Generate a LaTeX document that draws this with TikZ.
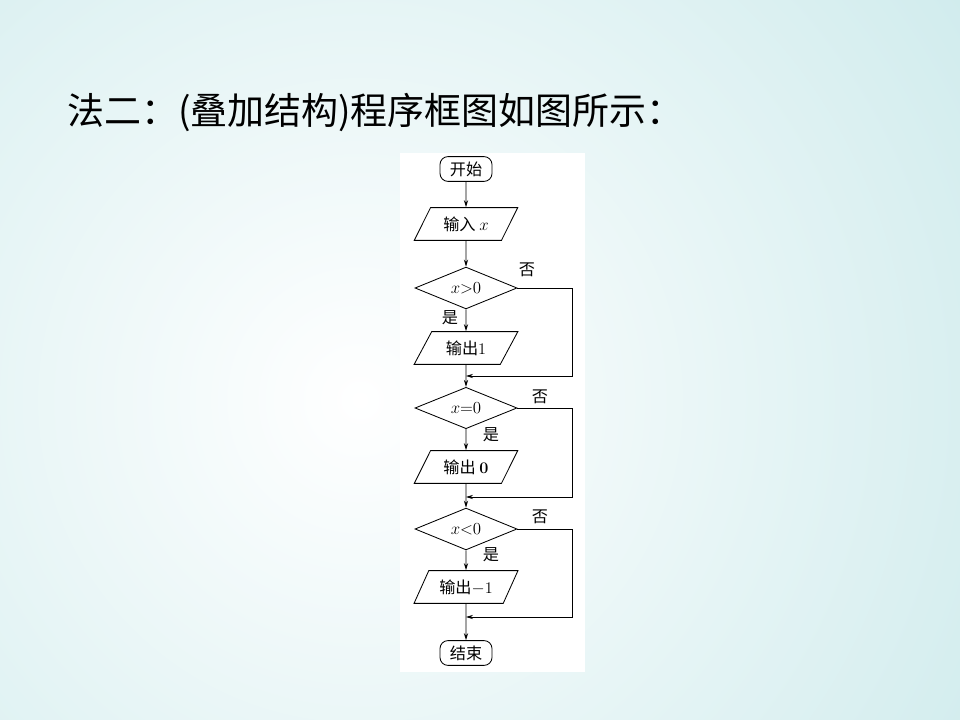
\documentclass[tikz,border=0pt]{standalone}
\usepackage{fontspec}
\newfontfamily\cjk{Noto Sans CJK SC}
\usetikzlibrary{shapes.geometric,arrows.meta}
\definecolor{bgcyan}{RGB}{185,226,228}

\begin{document}
\begin{tikzpicture}[x=0.025cm,y=-0.025cm,font=\cjk\fontsize{11.5}{13}\selectfont,
  term/.style={draw,rounded corners=0.2cm,minimum width=1.3cm,minimum height=0.62cm,inner sep=1pt},
  io/.style={draw,trapezium,trapezium left angle=58,trapezium right angle=122,trapezium stretches=true,minimum width=2.6cm,minimum height=0.82cm,inner sep=1pt},
  test/.style={draw,diamond,minimum width=2.55cm,minimum height=1.02cm,inner sep=0pt},
  flow/.style={-{Stealth[length=5pt,width=3pt]},line width=0.6pt},
  every node/.append style={line width=0.6pt}
]
  % background
  \useasboundingbox (0,0) rectangle (960,720);
  \begin{scope}
    \clip (0,0) rectangle (960,720);
    \shade[inner color=white,outer color=bgcyan] (360,400) circle (1100);
  \end{scope}
  \fill[white] (400,153) rectangle (585,672);

  \node[anchor=west,font=\cjk\fontsize{26.3}{30}\selectfont] (title) at (62,113) {法二：(叠加结构)程序框图如图所示：};

  \node[term] (start) at (466,169) {开始};
  \node[io] (inp) at (466,224) {输入 $x$};
  \node[test] (d1) at (466,288) {$x{>}0$};
  \node[io] (o1) at (466,348) {输出{\rmfamily 1}};
  \node[test] (d2) at (466,408) {$x{=}0$};
  \node[io] (o2) at (466,467) {输出 {\rmfamily\bfseries 0}};
  \node[test] (d3) at (466,529) {$x{<}0$};
  \node[io] (o3) at (466,587) {输出{\rmfamily$-$1}};
  \node[term] (stop) at (466,653) {结束};

  \coordinate (m1) at (466,376);
  \coordinate (r1) at (572,376);
  \coordinate (m2) at (466,497);
  \coordinate (r2) at (572,497);
  \coordinate (m3) at (466,617);
  \coordinate (r3) at (572,617);

  \draw[flow] (start) -- (inp);
  \draw[flow] (inp) -- (d1);
  \draw[flow] (d1) -- (o1);
  \draw[flow] (o1) -- (d2);
  \draw[flow] (d2) -- (o2);
  \draw[flow] (o2) -- (d3);
  \draw[flow] (d3) -- (o3);
  \draw[flow] (o3) -- (stop);

  \draw[flow] (d1.east) -| (r1) -- (m1);
  \draw[flow] (d2.east) -| (r2) -- (m2);
  \draw[flow] (d3.east) -| (r3) -- (m3);

  \node (no1) at (527,270) {否};
  \node (yes1) at (450,318) {是};
  \node (no2) at (540,397) {否};
  \node (yes2) at (491,435) {是};
  \node (no3) at (540,517) {否};
  \node (yes3) at (491,555) {是};
\end{tikzpicture}
\end{document}
